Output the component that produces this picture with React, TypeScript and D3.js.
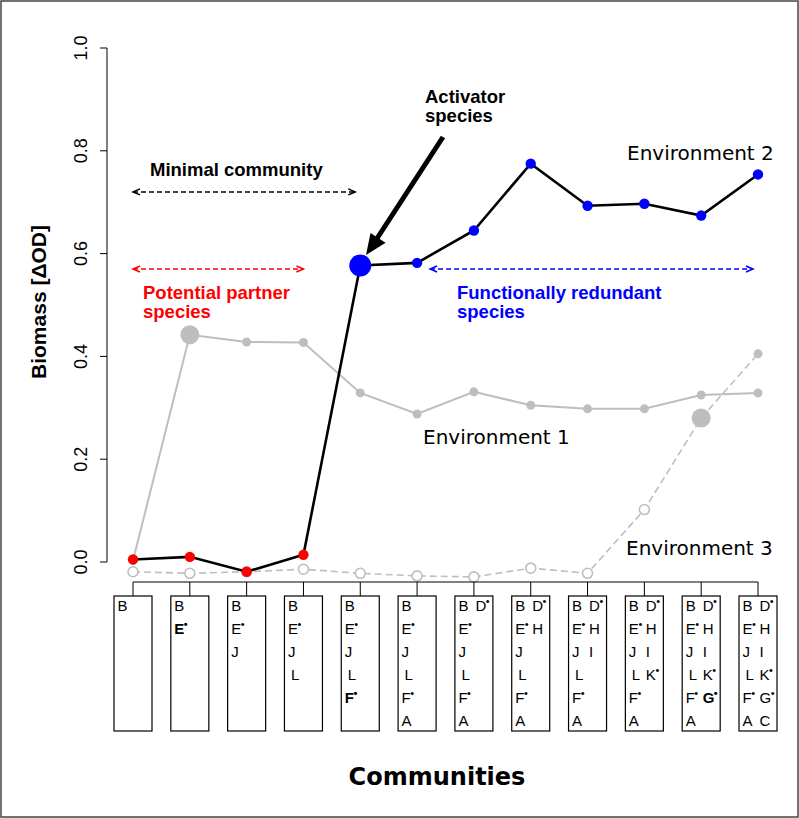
import React, { useEffect } from 'react';
import * as d3 from 'd3';

// biomass per community (12 communities, left to right)
const env1 = [0.003, 0.442, 0.428, 0.427, 0.329, 0.288, 0.331, 0.305, 0.298, 0.298, 0.325, 0.329];
const env2 = [0.005, 0.010, -0.019, 0.014, 0.577, 0.582, 0.645, 0.775, 0.693, 0.697, 0.674, 0.754];
const env3 = [-0.019, -0.022, -0.019, -0.014, -0.022, -0.027, -0.029, -0.012, -0.022, 0.102, 0.280, 0.405];
const yTicks = [0, 0.2, 0.4, 0.6, 0.8, 1.0];

// species in each community box, rows of [left column, right column]; "*" marks a dot
const communities = [
  [["B"]],
  [["B"], ["E*"]],
  [["B"], ["E*"], ["J"]],
  [["B"], ["E*"], ["J"], ["L"]],
  [["B"], ["E*"], ["J"], ["L"], ["F*"]],
  [["B"], ["E*"], ["J"], ["L"], ["F*"], ["A"]],
  [["B", "D*"], ["E*"], ["J"], ["L"], ["F*"], ["A"]],
  [["B", "D*"], ["E*", "H"], ["J"], ["L"], ["F*"], ["A"]],
  [["B", "D*"], ["E*", "H"], ["J", "I"], ["L"], ["F*"], ["A"]],
  [["B", "D*"], ["E*", "H"], ["J", "I"], ["L", "K*"], ["F*"], ["A"]],
  [["B", "D*"], ["E*", "H"], ["J", "I"], ["L", "K*"], ["F*", "G*"], ["A"]],
  [["B", "D*"], ["E*", "H"], ["J", "I"], ["L", "K*"], ["F*", "G*"], ["A", "C"]],
];
// species that was just added and is highlighted (bold) in a box
const highlighted = ["", "E*", "", "", "F*", "", "", "", "", "", "G*", ""];

const bigEnv1 = 1;
const bigEnv2 = 4;
const bigEnv3 = 10;

const GREY = "#bebebe";
const RED = "#ff0000";
const BLUE = "#0000ff";
const ARIAL = "'Liberation Sans', Arial, sans-serif";
const DEJAVU = "'DejaVu Sans', sans-serif";

const x = d3.scaleLinear().domain([0, 11]).range([133, 758]);
const y = d3.scaleLinear().domain([0, 1]).range([562, 48]);

const line = d3.line<number>().x((d, i) => x(i)).y(d => y(d));

const DoubleArrow = ({ x1, x2, yy, color }) => {
  const h = 7, w = 3;
  return (
    <g stroke={color} strokeWidth={1.5} fill="none">
      <line x1={x1} x2={x2} y1={yy} y2={yy} strokeDasharray="5,3" />
      <path d={`M${x1 + h},${yy - w}L${x1},${yy}L${x1 + h},${yy + w}`} />
      <path d={`M${x2 - h},${yy - w}L${x2},${yy}L${x2 - h},${yy + w}`} />
    </g>
  );
};

const Species = ({ xx, yy, name, bold }) => {
  const dot = name.endsWith("*");
  const letter = dot ? name.slice(0, -1) : name;
  return (
    <text x={xx} y={yy} fontFamily={ARIAL} fontSize={15} fontWeight={bold ? "bold" : "normal"}>
      {letter}
      {dot && <tspan dy={-6} fontSize={11} dx={-0.5}>•</tspan>}
    </text>
  );
};

export default function App() {
  useEffect(() => {
    document.body.style.margin = "0";
  }, []);

  const boxTop = 596, boxBottom = 731, boxW = 38;

  return (
    <svg width={799} height={818} style={{ display: "block", background: "#fff" }}>
      <rect x={1} y={1} width={797} height={816} fill="none" stroke="#444" strokeWidth={1.5} />

      {/* y axis */}
      <line x1={107} x2={107} y1={y(0)} y2={y(1)} stroke="#000" />
      {yTicks.map(t => (
        <g key={t}>
          <line x1={100} x2={107} y1={y(t)} y2={y(t)} stroke="#000" />
          <text transform={`translate(87,${y(t)}) rotate(-90)`} textAnchor="middle"
            fontFamily={ARIAL} fontSize={18}>{t.toFixed(1)}</text>
        </g>
      ))}
      <text transform={`translate(46,302) rotate(-90)`} textAnchor="middle"
        fontFamily={ARIAL} fontSize={21} fontWeight="bold">Biomass [ΔOD]</text>

      {/* environment 3 */}
      <path d={line(env3)} fill="none" stroke={GREY} strokeWidth={1.6} strokeDasharray="7,4" />
      {env3.map((v, i) => i === bigEnv3
        ? <circle key={i} cx={x(i)} cy={y(v)} r={9.5} fill={GREY} />
        : i === env3.length - 1
          ? <circle key={i} cx={x(i)} cy={y(v)} r={4.5} fill={GREY} />
          : <circle key={i} cx={x(i)} cy={y(v)} r={5} fill="#fff" stroke={GREY} strokeWidth={1.6} />)}

      {/* environment 1 */}
      <path d={line(env1)} fill="none" stroke={GREY} strokeWidth={2} />
      {env1.map((v, i) => (
        <circle key={i} cx={x(i)} cy={y(v)} r={i === bigEnv1 ? 9.5 : 4.5} fill={GREY} />
      ))}

      {/* environment 2 */}
      <path d={line(env2)} fill="none" stroke="#000" strokeWidth={2.6} />
      {env2.map((v, i) => (
        <circle key={i} cx={x(i)} cy={y(v)} r={i === bigEnv2 ? 11 : 5.2} fill={i < bigEnv2 ? RED : BLUE} />
      ))}

      {/* environment labels */}
      <text x={627} y={160} fontFamily={DEJAVU} fontSize={20}>Environment 2</text>
      <text x={423} y={444} fontFamily={DEJAVU} fontSize={20}>Environment 1</text>
      <text x={626} y={555} fontFamily={DEJAVU} fontSize={20}>Environment 3</text>

      {/* annotations */}
      <text x={150} y={176} fontFamily={ARIAL} fontSize={18.5} fontWeight="bold">Minimal community</text>
      <DoubleArrow x1={x(0)} x2={x(4) - 5} yy={y(0.72)} color="#000" />
      <DoubleArrow x1={x(0)} x2={x(3)} yy={y(0.57)} color={RED} />
      <text fontFamily={ARIAL} fontSize={18.5} fontWeight="bold" fill={RED}>
        <tspan x={143} y={299}>Potential partner</tspan>
        <tspan x={143} y={318}>species</tspan>
      </text>
      <DoubleArrow x1={x(5) + 13} x2={x(11) - 5} yy={y(0.57)} color={BLUE} />
      <text fontFamily={ARIAL} fontSize={18.5} fontWeight="bold" fill={BLUE}>
        <tspan x={457} y={299}>Functionally redundant</tspan>
        <tspan x={457} y={318}>species</tspan>
      </text>
      <text fontFamily={ARIAL} fontSize={18.5} fontWeight="bold">
        <tspan x={425} y={103}>Activator</tspan>
        <tspan x={425} y={122}>species</tspan>
      </text>
      <line x1={443} y1={137} x2={376} y2={240} stroke="#000" strokeWidth={5} />
      <path d="M366,255 L370.5,233 L385.6,242.8 Z" fill="#000" />

      {/* community axis and boxes */}
      <line x1={x(0)} x2={x(11)} y1={582} y2={582} stroke="#000" />
      {communities.map((rows, i) => {
        const left = x(i) - boxW / 2;
        return (
          <g key={i}>
            <line x1={x(i)} x2={x(i)} y1={582} y2={boxTop} stroke="#000" />
            <rect x={left} y={boxTop} width={boxW} height={boxBottom - boxTop} fill="#fff" stroke="#000" strokeWidth={1.2} />
            {rows.map((row, r) => row.map((sp, c) => (
              <Species key={`${r}-${c}`} xx={left + 3.5 + c * 17 + (sp === "L" ? 3 : 0)} yy={611 + r * 22.9}
                name={sp} bold={highlighted[i] === sp && c === (sp === "G*" ? 1 : 0)} />
            )))}
          </g>
        );
      })}
      <text x={437} y={785} textAnchor="middle" fontFamily={DEJAVU} fontSize={24} fontWeight="bold">Communities</text>
    </svg>
  );
}
